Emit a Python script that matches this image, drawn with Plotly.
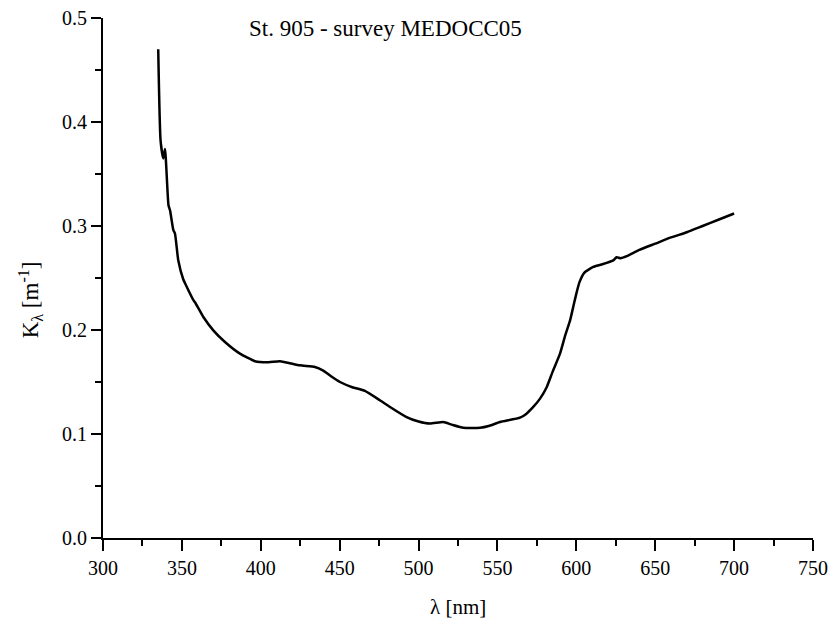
import plotly.graph_objects as go

# Data
wavelength = [335, 336.5, 338.2, 339.3, 341.5, 342.5, 344.6, 345.6, 347.7, 350.8, 352,
              357.2, 358.3, 363.6, 369.9, 377.3, 386.8, 396.3, 405, 412.2, 424.8, 434.3,
              439.6, 445, 450.2, 458, 466, 475.5, 481.9, 492.4, 500, 507.2, 515.7, 521,
              528.4, 539, 545, 551.6, 564.3, 568, 572.7, 577, 581.2, 585, 589.6, 593, 596,
              598, 600, 602, 605, 610.7, 616, 623.4, 625.5, 628, 632, 640, 650, 660, 670,
              680, 690, 700]
k_values = [0.470, 0.382, 0.365, 0.374, 0.320, 0.315, 0.296, 0.293, 0.267, 0.249, 0.245,
            0.229, 0.2267, 0.2125, 0.1997, 0.1885, 0.1773, 0.170, 0.169, 0.170, 0.166, 0.1645,
            0.161, 0.155, 0.150, 0.145, 0.1414, 0.1324, 0.126, 0.1163, 0.112, 0.110, 0.1115, 0.109,
            0.106, 0.106, 0.108, 0.1115, 0.1157, 0.119, 0.126, 0.134, 0.145, 0.160, 0.177, 0.195, 0.209,
            0.222, 0.235, 0.246, 0.255, 0.2606, 0.263, 0.267, 0.270, 0.269, 0.271, 0.277, 0.283, 0.289, 0.294,
            0.300, 0.306, 0.312]

title_text = "St. 905 - survey MEDOCC05"
x_title = "λ [nm]"
y_title = "K<sub>λ</sub> [m<sup>-1</sup>]"

FONT = "Times New Roman"

fig = go.Figure()
fig.add_trace(go.Scatter(x=wavelength, y=k_values, mode="lines",
                         line=dict(color="black", width=2.5, shape="spline", smoothing=0.5),
                         showlegend=False))

axis_common = dict(
    showgrid=False, zeroline=False, showline=True, linecolor="black", linewidth=2,
    ticks="outside", tickcolor="black", tickwidth=2,
    tickfont=dict(family=FONT, size=20, color="black"),
)

fig.update_xaxes(range=[300, 750], dtick=50, tick0=300, ticklen=11,
                 minor=dict(dtick=25, ticklen=6, tickwidth=2, tickcolor="black", ticks="outside"),
                 **axis_common)
fig.update_yaxes(range=[0, 0.5], dtick=0.1, tick0=0, ticklen=10, tickformat=".1f",
                 minor=dict(dtick=0.05, ticklen=6, tickwidth=2, tickcolor="black", ticks="outside"),
                 **axis_common)

fig.update_layout(
    width=831, height=621,
    margin=dict(l=103, r=18, t=18, b=83, autoexpand=False),
    plot_bgcolor="white", paper_bgcolor="white",
    font=dict(family=FONT, color="black"),
    annotations=[
        dict(text=title_text, xref="paper", yref="paper", x=0.2024, y=0.98,
             xanchor="left", yanchor="middle", showarrow=False,
             font=dict(family=FONT, size=23, color="black")),
        dict(text=x_title, xref="paper", yref="paper", x=0.5, y=-0.133,
             xanchor="center", yanchor="middle", showarrow=False,
             font=dict(family=FONT, size=21, color="black")),
        dict(text=y_title, xref="paper", yref="paper", x=-0.1028, y=0.457,
             xanchor="center", yanchor="middle", showarrow=False, textangle=-90,
             font=dict(family=FONT, size=23, color="black")),
    ],
)

fig.write_html("out.html")
